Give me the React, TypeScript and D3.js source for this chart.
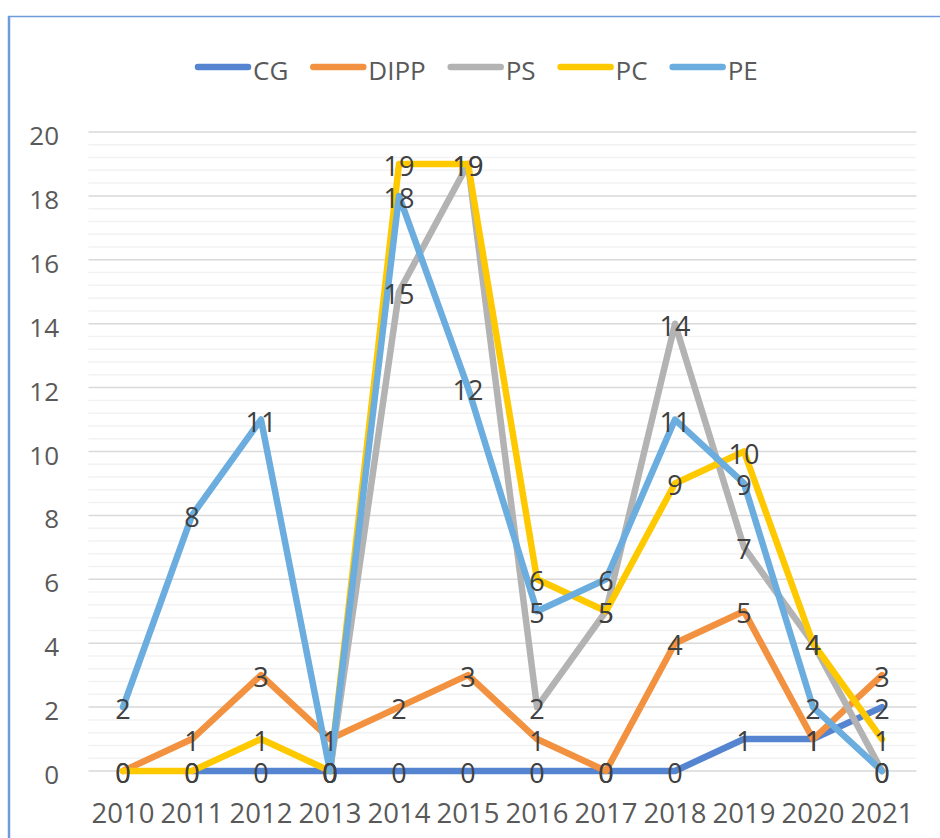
import { useEffect, useRef } from 'react'
import * as d3 from 'd3'

const years = ['2010', '2011', '2012', '2013', '2014', '2015', '2016', '2017', '2018', '2019', '2020', '2021']

const cg: (number | null)[] = [null, 0, 0, 0, 0, 0, 0, 0, 0, 1, 1, 2]
const dipp: (number | null)[] = [0, 1, 3, 1, 2, 3, 1, 0, 4, 5, 1, 3]
const ps: (number | null)[] = [null, null, null, 0, 15, 19, 2, 5, 14, 7, 4, 0]
const pc: (number | null)[] = [0, 0, 1, 0, 19, 19, 6, 5, 9, 10, 4, 1]
const pe: (number | null)[] = [2, 8, 11, 0, 18, 12, 5, 6, 11, 9, 2, 0]

const yTicks = [0, 2, 4, 6, 8, 10, 12, 14, 16, 18, 20]

const seriesList = [
  { name: 'CG', values: cg, color: '#5584d0' },
  { name: 'DIPP', values: dipp, color: '#f29240' },
  { name: 'PS', values: ps, color: '#b3b3b3' },
  { name: 'PC', values: pc, color: '#ffc900' },
  { name: 'PE', values: pe, color: '#6badde' },
]

const W = 940
const H = 838
const FONT = '"Open Sans", sans-serif'

export default function App() {
  const svgRef = useRef<SVGSVGElement>(null)

  useEffect(() => {
    if (!svgRef.current) return
    const svg = d3.select(svgRef.current)
    svg.selectAll('*').remove()

    const x = d3.scaleBand().domain(years).range([88.5, 916.5]).padding(0)
    const y = d3.scaleLinear().domain([0, 20]).range([771, 132])
    const cx = (yr: string) => x(yr)! + x.bandwidth() / 2

    // frame
    svg.append('line').attr('x1', 8).attr('x2', W).attr('y1', 16.5).attr('y2', 16.5)
      .attr('stroke', '#6f9bdc').attr('stroke-width', 1.5)
    svg.append('line').attr('x1', 9).attr('x2', 9).attr('y1', 16).attr('y2', H)
      .attr('stroke', '#6f9bdc').attr('stroke-width', 2.5)

    // minor + major grid
    const minor = d3.range(0, 20.001, 0.4).filter(v => Math.abs(v / 2 - Math.round(v / 2)) > 0.01)
    svg.append('g').selectAll('line').data(minor).join('line')
      .attr('x1', 88.5).attr('x2', 916.5)
      .attr('y1', d => y(d)).attr('y2', d => y(d))
      .attr('stroke', '#f2f2f2').attr('stroke-width', 1.5)
    svg.append('g').selectAll('line').data(yTicks).join('line')
      .attr('x1', 88.5).attr('x2', 916.5)
      .attr('y1', d => y(d)).attr('y2', d => y(d))
      .attr('stroke', '#d9d9d9').attr('stroke-width', 1.5)

    // y labels
    svg.append('g').selectAll('text').data(yTicks).join('text')
      .attr('x', 59).attr('y', d => y(d) + 13)
      .attr('text-anchor', 'end')
      .attr('font-family', FONT).attr('font-size', 26).attr('fill', '#595959')
      .text(d => d)

    // x labels
    svg.append('g').selectAll('text').data(years).join('text')
      .attr('x', d => cx(d)).attr('y', 823)
      .attr('text-anchor', 'middle')
      .attr('font-family', FONT).attr('font-size', 27.5).attr('fill', '#595959')
      .text(d => d)

    // lines
    const line = d3.line<number | null>()
      .defined(d => d != null)
      .x((_, i) => cx(years[i]))
      .y(d => y(d as number))

    seriesList.forEach(s => {
      svg.append('path').datum(s.values)
        .attr('fill', 'none')
        .attr('stroke', s.color)
        .attr('stroke-width', 6.5)
        .attr('stroke-linejoin', 'round')
        .attr('stroke-linecap', 'round')
        .attr('d', line)
    })

    // data labels
    seriesList.forEach(s => {
      svg.append('g').selectAll('text')
        .data(s.values.map((v, i) => ({ v, yr: years[i] })).filter(d => d.v != null))
        .join('text')
        .attr('x', d => cx(d.yr)).attr('y', d => y(d.v as number) + 12)
        .attr('text-anchor', 'middle')
        .attr('font-family', FONT).attr('font-size', 27).attr('fill', '#404040')
        .text(d => d.v as number)
    })

    // legend
    const legend = svg.append('g')
    let lx = 195
    seriesList.forEach(s => {
      legend.append('line')
        .attr('x1', lx + 3).attr('x2', lx + 53).attr('y1', 67).attr('y2', 67)
        .attr('stroke', s.color).attr('stroke-width', 6.5).attr('stroke-linecap', 'round')
      const t = legend.append('text')
        .attr('x', lx + 58).attr('y', 80)
        .attr('font-family', FONT).attr('font-size', 26).attr('fill', '#595959')
        .text(s.name)
      const tw = (t.node() as SVGTextElement).getComputedTextLength()
      lx += 58 + tw + 22
    })
  }, [])

  return (
    <div style={{ position: 'absolute', left: 0, top: 0, background: '#fff' }}>
      <svg ref={svgRef} width={W} height={H} style={{ display: 'block' }} />
    </div>
  )
}
